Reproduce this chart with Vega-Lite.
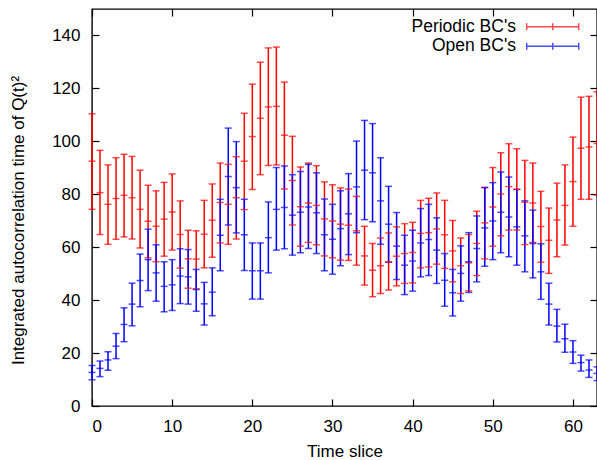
{
  "$schema": "https://vega.github.io/schema/vega-lite/v6.json",
  "width": 505,
  "height": 397,
  "autosize": {"type": "none"},
  "padding": {"left": 92, "top": 9, "right": 0, "bottom": 54},
  "config": {
    "font": "Liberation Sans",
    "view": {"stroke": "black", "strokeWidth": 1.4},
    "axis": {"labelFontSize": 17, "titleFontSize": 17, "labelColor": "black", "titleColor": "black", "titleFontWeight": "normal", "domain": false, "grid": false, "tickColor": "black", "tickSize": -7, "tickWidth": 1.2}
  },
  "data": {"values": [
    {"t":0,"series":"Periodic BC's","v":92.5,"lo":74.3,"hi":110.4},
    {"t":1,"series":"Periodic BC's","v":80.6,"lo":64.8,"hi":96.6},
    {"t":2,"series":"Periodic BC's","v":76.2,"lo":61.1,"hi":91.1},
    {"t":3,"series":"Periodic BC's","v":78.4,"lo":63.0,"hi":93.8},
    {"t":4,"series":"Periodic BC's","v":79.6,"lo":63.9,"hi":95.1},
    {"t":5,"series":"Periodic BC's","v":78.7,"lo":63.1,"hi":94.3},
    {"t":6,"series":"Periodic BC's","v":74.3,"lo":59.7,"hi":89.1},
    {"t":7,"series":"Periodic BC's","v":69.8,"lo":56.0,"hi":83.4},
    {"t":8,"series":"Periodic BC's","v":67.9,"lo":54.5,"hi":81.3},
    {"t":9,"series":"Periodic BC's","v":70.6,"lo":56.6,"hi":84.5},
    {"t":10,"series":"Periodic BC's","v":73.3,"lo":58.9,"hi":87.7},
    {"t":11,"series":"Periodic BC's","v":64.8,"lo":52.1,"hi":77.5},
    {"t":12,"series":"Periodic BC's","v":55.6,"lo":44.5,"hi":66.4},
    {"t":13,"series":"Periodic BC's","v":55.5,"lo":44.3,"hi":66.2},
    {"t":14,"series":"Periodic BC's","v":64.9,"lo":52.2,"hi":77.7},
    {"t":15,"series":"Periodic BC's","v":70.2,"lo":56.2,"hi":83.9},
    {"t":16,"series":"Periodic BC's","v":76.9,"lo":61.6,"hi":91.8},
    {"t":17,"series":"Periodic BC's","v":76.2,"lo":61.1,"hi":91.3},
    {"t":18,"series":"Periodic BC's","v":78.7,"lo":63.1,"hi":94.2},
    {"t":19,"series":"Periodic BC's","v":92.5,"lo":74.2,"hi":110.6},
    {"t":20,"series":"Periodic BC's","v":101.8,"lo":81.8,"hi":121.6},
    {"t":21,"series":"Periodic BC's","v":108.7,"lo":87.4,"hi":129.9},
    {"t":22,"series":"Periodic BC's","v":113.0,"lo":90.9,"hi":135.3},
    {"t":23,"series":"Periodic BC's","v":113.2,"lo":91.1,"hi":135.6},
    {"t":24,"series":"Periodic BC's","v":102.3,"lo":82.0,"hi":122.4},
    {"t":25,"series":"Periodic BC's","v":85.2,"lo":68.4,"hi":101.9},
    {"t":26,"series":"Periodic BC's","v":75.3,"lo":60.4,"hi":90.3},
    {"t":27,"series":"Periodic BC's","v":76.7,"lo":61.8,"hi":91.8},
    {"t":28,"series":"Periodic BC's","v":75.8,"lo":60.9,"hi":90.8},
    {"t":29,"series":"Periodic BC's","v":70.7,"lo":56.7,"hi":84.7},
    {"t":30,"series":"Periodic BC's","v":69.9,"lo":56.0,"hi":83.6},
    {"t":31,"series":"Periodic BC's","v":68.7,"lo":55.1,"hi":82.4},
    {"t":32,"series":"Periodic BC's","v":68.3,"lo":55.0,"hi":82.0},
    {"t":33,"series":"Periodic BC's","v":66.2,"lo":53.2,"hi":79.2},
    {"t":34,"series":"Periodic BC's","v":56.7,"lo":45.7,"hi":67.9},
    {"t":35,"series":"Periodic BC's","v":51.3,"lo":41.3,"hi":61.4},
    {"t":36,"series":"Periodic BC's","v":53.0,"lo":42.5,"hi":63.5},
    {"t":37,"series":"Periodic BC's","v":54.5,"lo":43.8,"hi":65.4},
    {"t":38,"series":"Periodic BC's","v":56.6,"lo":45.4,"hi":67.7},
    {"t":39,"series":"Periodic BC's","v":57.6,"lo":46.3,"hi":68.9},
    {"t":40,"series":"Periodic BC's","v":58.0,"lo":46.5,"hi":69.4},
    {"t":41,"series":"Periodic BC's","v":65.2,"lo":52.2,"hi":77.7},
    {"t":42,"series":"Periodic BC's","v":65.5,"lo":52.5,"hi":78.5},
    {"t":43,"series":"Periodic BC's","v":66.9,"lo":53.6,"hi":80.5},
    {"t":44,"series":"Periodic BC's","v":64.7,"lo":52.0,"hi":77.7},
    {"t":45,"series":"Periodic BC's","v":58.6,"lo":46.9,"hi":70.1},
    {"t":46,"series":"Periodic BC's","v":53.0,"lo":42.5,"hi":63.5},
    {"t":47,"series":"Periodic BC's","v":54.1,"lo":43.5,"hi":64.8},
    {"t":48,"series":"Periodic BC's","v":61.4,"lo":49.3,"hi":73.6},
    {"t":49,"series":"Periodic BC's","v":69.2,"lo":55.6,"hi":82.6},
    {"t":50,"series":"Periodic BC's","v":75.2,"lo":60.4,"hi":90.1},
    {"t":51,"series":"Periodic BC's","v":80.1,"lo":64.3,"hi":95.7},
    {"t":52,"series":"Periodic BC's","v":82.9,"lo":66.5,"hi":99.1},
    {"t":53,"series":"Periodic BC's","v":81.9,"lo":66.5,"hi":97.2},
    {"t":54,"series":"Periodic BC's","v":77.0,"lo":61.0,"hi":92.8},
    {"t":55,"series":"Periodic BC's","v":76.7,"lo":61.8,"hi":91.8},
    {"t":56,"series":"Periodic BC's","v":67.8,"lo":54.3,"hi":81.1},
    {"t":57,"series":"Periodic BC's","v":62.6,"lo":50.1,"hi":74.8},
    {"t":58,"series":"Periodic BC's","v":70.3,"lo":56.4,"hi":84.2},
    {"t":59,"series":"Periodic BC's","v":75.8,"lo":60.8,"hi":91.1},
    {"t":60,"series":"Periodic BC's","v":84.8,"lo":67.9,"hi":101.6},
    {"t":61,"series":"Periodic BC's","v":97.4,"lo":78.1,"hi":116.7},
    {"t":62,"series":"Periodic BC's","v":97.9,"lo":78.1,"hi":117.0},
    {"t":63,"series":"Periodic BC's","v":99.2,"lo":79.7,"hi":118.7},
    {"t":0,"series":"Open BC's","v":12.7,"lo":9.9,"hi":15.3},
    {"t":1,"series":"Open BC's","v":14.2,"lo":11.1,"hi":17.0},
    {"t":2,"series":"Open BC's","v":17.4,"lo":13.5,"hi":20.5},
    {"t":3,"series":"Open BC's","v":22.6,"lo":17.9,"hi":27.4},
    {"t":4,"series":"Open BC's","v":30.8,"lo":24.3,"hi":37.1},
    {"t":5,"series":"Open BC's","v":38.5,"lo":30.3,"hi":46.4},
    {"t":6,"series":"Open BC's","v":47.4,"lo":37.5,"hi":57.4},
    {"t":7,"series":"Open BC's","v":55.3,"lo":43.6,"hi":66.8},
    {"t":8,"series":"Open BC's","v":50.3,"lo":39.6,"hi":60.9},
    {"t":9,"series":"Open BC's","v":45.2,"lo":35.6,"hi":54.5},
    {"t":10,"series":"Open BC's","v":45.8,"lo":36.1,"hi":55.3},
    {"t":11,"series":"Open BC's","v":49.1,"lo":38.7,"hi":59.4},
    {"t":12,"series":"Open BC's","v":48.8,"lo":38.5,"hi":59.1},
    {"t":13,"series":"Open BC's","v":44.0,"lo":35.8,"hi":51.6},
    {"t":14,"series":"Open BC's","v":38.6,"lo":30.6,"hi":46.7},
    {"t":15,"series":"Open BC's","v":43.0,"lo":34.1,"hi":52.2},
    {"t":16,"series":"Open BC's","v":64.5,"lo":51.1,"hi":78.1},
    {"t":17,"series":"Open BC's","v":86.7,"lo":68.4,"hi":105.0},
    {"t":18,"series":"Open BC's","v":82.5,"lo":65.4,"hi":99.9},
    {"t":19,"series":"Open BC's","v":64.7,"lo":51.2,"hi":78.1},
    {"t":20,"series":"Open BC's","v":51.1,"lo":40.4,"hi":61.6},
    {"t":21,"series":"Open BC's","v":51.1,"lo":40.4,"hi":61.6},
    {"t":22,"series":"Open BC's","v":63.6,"lo":50.3,"hi":77.1},
    {"t":23,"series":"Open BC's","v":74.3,"lo":58.9,"hi":90.1},
    {"t":24,"series":"Open BC's","v":75.0,"lo":59.4,"hi":90.7},
    {"t":25,"series":"Open BC's","v":72.1,"lo":57.0,"hi":87.4},
    {"t":26,"series":"Open BC's","v":73.2,"lo":57.9,"hi":88.6},
    {"t":27,"series":"Open BC's","v":75.2,"lo":59.5,"hi":91.3},
    {"t":28,"series":"Open BC's","v":73.0,"lo":57.6,"hi":88.1},
    {"t":29,"series":"Open BC's","v":64.7,"lo":51.1,"hi":78.2},
    {"t":30,"series":"Open BC's","v":63.0,"lo":49.8,"hi":76.2},
    {"t":31,"series":"Open BC's","v":67.0,"lo":53.0,"hi":81.3},
    {"t":32,"series":"Open BC's","v":72.6,"lo":57.2,"hi":87.8},
    {"t":33,"series":"Open BC's","v":82.8,"lo":65.5,"hi":100.1},
    {"t":34,"series":"Open BC's","v":89.1,"lo":70.4,"hi":107.9},
    {"t":35,"series":"Open BC's","v":88.1,"lo":69.6,"hi":106.7},
    {"t":36,"series":"Open BC's","v":77.5,"lo":61.1,"hi":93.8},
    {"t":37,"series":"Open BC's","v":68.7,"lo":54.3,"hi":83.0},
    {"t":38,"series":"Open BC's","v":60.4,"lo":47.8,"hi":73.1},
    {"t":39,"series":"Open BC's","v":53.2,"lo":42.1,"hi":64.5},
    {"t":40,"series":"Open BC's","v":54.8,"lo":43.4,"hi":66.4},
    {"t":41,"series":"Open BC's","v":61.6,"lo":48.8,"hi":74.6},
    {"t":42,"series":"Open BC's","v":62.9,"lo":49.3,"hi":76.2},
    {"t":43,"series":"Open BC's","v":58.9,"lo":46.3,"hi":71.1},
    {"t":44,"series":"Open BC's","v":47.5,"lo":37.7,"hi":57.6},
    {"t":45,"series":"Open BC's","v":42.8,"lo":34.0,"hi":51.6},
    {"t":46,"series":"Open BC's","v":50.1,"lo":39.6,"hi":60.5},
    {"t":47,"series":"Open BC's","v":54.5,"lo":42.9,"hi":65.5},
    {"t":48,"series":"Open BC's","v":59.5,"lo":46.9,"hi":71.8},
    {"t":49,"series":"Open BC's","v":67.3,"lo":52.8,"hi":82.5},
    {"t":50,"series":"Open BC's","v":69.9,"lo":55.3,"hi":84.4},
    {"t":51,"series":"Open BC's","v":73.2,"lo":57.9,"hi":88.4},
    {"t":52,"series":"Open BC's","v":71.4,"lo":56.4,"hi":86.5},
    {"t":53,"series":"Open BC's","v":67.7,"lo":53.2,"hi":81.8},
    {"t":54,"series":"Open BC's","v":64.3,"lo":50.7,"hi":77.5},
    {"t":55,"series":"Open BC's","v":61.4,"lo":48.4,"hi":74.0},
    {"t":56,"series":"Open BC's","v":50.7,"lo":40.3,"hi":61.3},
    {"t":57,"series":"Open BC's","v":38.5,"lo":30.6,"hi":46.4},
    {"t":58,"series":"Open BC's","v":30.2,"lo":24.2,"hi":36.5},
    {"t":59,"series":"Open BC's","v":25.4,"lo":20.3,"hi":30.9},
    {"t":60,"series":"Open BC's","v":20.4,"lo":16.1,"hi":24.7},
    {"t":61,"series":"Open BC's","v":16.4,"lo":13.2,"hi":19.2},
    {"t":62,"series":"Open BC's","v":13.6,"lo":10.8,"hi":17.4},
    {"t":63,"series":"Open BC's","v":12.3,"lo":9.6,"hi":14.8}
  ]},
  "resolve": {"axis": {"x": "independent", "y": "independent"}},
  "layer": [
    {
      "mark": {"type": "rule", "strokeWidth": 1.5},
      "encoding": {
        "x": {"field": "t", "type": "quantitative", "scale": {"domain": [0, 63], "nice": false, "zero": false},
              "axis": {"orient": "bottom", "values": [0,10,20,30,40,50,60], "title": "Time slice", "labelPadding": 19, "titlePadding": 9}},
        "y": {"field": "lo", "type": "quantitative", "scale": {"domain": [0, 150], "nice": false},
              "axis": {"orient": "left", "values": [0,20,40,60,80,100,120,140], "title": "Integrated autocorrelation time of Q(t)²", "labelPadding": 19, "titlePadding": 24, "titleY": 211}},
        "y2": {"field": "hi"},
        "color": {"field": "series", "type": "nominal",
                  "scale": {"domain": ["Periodic BC's", "Open BC's"], "range": ["#ff0000", "#0000ff"]},
                  "legend": {"orient": "none", "legendX": 450.7, "legendY": 7.7, "title": null, "padding": 0,
                             "symbolType": "M-2.89,-0.39L-2.89,0.39M-2.89,0L2.89,0M2.89,-0.39L2.89,0.39M0,-0.39L0,0.39",
                             "symbolSize": 324, "symbolStrokeWidth": 1.5, "symbolFillColor": "transparent",
                             "labelAlign": "right", "labelOffset": -46.7, "labelFontSize": 17.5, "labelColor": "black",
                             "labelFont": "Liberation Sans", "rowPadding": 0.6, "labelLimit": 300}}
      }
    },
    {
      "mark": {"type": "tick", "orient": "horizontal", "size": 7, "thickness": 1.5},
      "encoding": {
        "x": {"field": "t", "type": "quantitative", "axis": null},
        "y": {"field": "lo", "type": "quantitative", "axis": null},
        "color": {"field": "series", "type": "nominal"}
      }
    },
    {
      "mark": {"type": "tick", "orient": "horizontal", "size": 7, "thickness": 1.5},
      "encoding": {
        "x": {"field": "t", "type": "quantitative", "axis": null},
        "y": {"field": "hi", "type": "quantitative", "axis": null},
        "color": {"field": "series", "type": "nominal"}
      }
    },
    {
      "mark": {"type": "tick", "orient": "horizontal", "size": 7, "thickness": 1.5},
      "encoding": {
        "x": {"field": "t", "type": "quantitative",
              "axis": {"orient": "top", "values": [0,10,20,30,40,50,60], "labels": false, "title": null}},
        "y": {"field": "v", "type": "quantitative",
              "axis": {"orient": "right", "values": [0,20,40,60,80,100,120,140], "labels": false, "title": null}},
        "color": {"field": "series", "type": "nominal"}
      }
    }
  ]
}
